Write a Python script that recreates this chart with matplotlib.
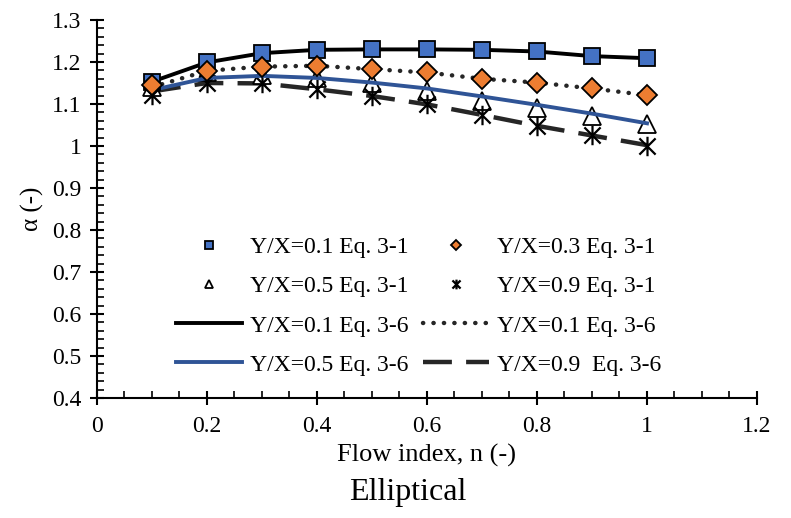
import matplotlib
matplotlib.use("Agg")
import matplotlib.pyplot as plt
from matplotlib.path import Path
from matplotlib.ticker import MultipleLocator

plt.rcParams['font.family'] = ['Liberation Serif', 'DejaVu Serif']

# Flow index values
n = [0.1, 0.2, 0.3, 0.4, 0.5, 0.6, 0.7, 0.8, 0.9, 1.0]

# Eq. 3-1 results (markers)
eq31_yx01 = [1.153, 1.199, 1.221, 1.229, 1.230, 1.230, 1.229, 1.225, 1.214, 1.209]
eq31_yx03 = [1.145, 1.179, 1.189, 1.191, 1.183, 1.175, 1.160, 1.151, 1.137, 1.121]
eq31_yx05 = [1.141, 1.175, 1.168, 1.161, 1.149, 1.130, 1.106, 1.090, 1.071, 1.052]
eq31_yx09 = [1.121, 1.149, 1.149, 1.135, 1.119, 1.099, 1.074, 1.048, 1.025, 1.001]

# Eq. 3-6 results (lines)
eq36_yx01 = [1.153, 1.199, 1.221, 1.229, 1.230, 1.230, 1.229, 1.225, 1.214, 1.209]
eq36_yx01b = [1.140, 1.179, 1.189, 1.191, 1.183, 1.175, 1.160, 1.151, 1.137, 1.121]
eq36_yx05 = [1.133, 1.162, 1.167, 1.162, 1.151, 1.137, 1.118, 1.098, 1.077, 1.054]
eq36_yx09 = [1.130, 1.150, 1.149, 1.135, 1.119, 1.099, 1.074, 1.048, 1.025, 1.002]

labels = [
    "Y/X=0.1 Eq. 3-1", "Y/X=0.3 Eq. 3-1", "Y/X=0.5 Eq. 3-1", "Y/X=0.9 Eq. 3-1",
    "Y/X=0.1 Eq. 3-6", "Y/X=0.1 Eq. 3-6", "Y/X=0.5 Eq. 3-6", "Y/X=0.9  Eq. 3-6",
]

# asterisk marker: an X with a vertical bar
star = Path([(-1, -1), (1, 1), (-1, 1), (1, -1), (0, -1.2), (0, 1.2)],
            [Path.MOVETO, Path.LINETO, Path.MOVETO, Path.LINETO, Path.MOVETO, Path.LINETO])

fig = plt.figure(figsize=(7.91, 5.18), dpi=100)
ax = fig.add_axes([0.1226, 0.2317, 0.8344, 0.7297])

l_solid, = ax.plot(n, eq36_yx01, color='black', lw=2.8, zorder=2)
l_dot, = ax.plot(n, eq36_yx01b, color='#262626', lw=3.2, linestyle=(0, (0.05, 2.3)),
                 dash_capstyle='round', zorder=2)
l_blue, = ax.plot(n, eq36_yx05, color='#2F5496', lw=2.8, zorder=4)
l_dash, = ax.plot(n, eq36_yx09, color='#262626', lw=3.2, linestyle=(0, (6.5, 3.2)), zorder=2)

m_sq, = ax.plot(n, eq31_yx01, linestyle='none', marker='s', ms=11, mfc='#4472C4',
                mec='black', mew=1.3, zorder=5)
m_di, = ax.plot(n, eq31_yx03, linestyle='none', marker='D', ms=10.5, mfc='#ED7D31',
                mec='black', mew=1.3, zorder=5)
m_tr, = ax.plot(n, eq31_yx05, linestyle='none', marker='^', ms=12.5, mfc='white',
                mec='black', mew=1.3, zorder=3)
m_st, = ax.plot(n, eq31_yx09, linestyle='none', marker=star, ms=14, mfc='none',
                mec='black', mew=1.6, zorder=3)

ax.set_xlim(0, 1.2)
ax.set_ylim(0.4, 1.3)
ax.xaxis.set_minor_locator(MultipleLocator(0.05))
ax.yaxis.set_minor_locator(MultipleLocator(0.02))
ax.set_xticks([0, 0.2, 0.4, 0.6, 0.8, 1.0, 1.2])
ax.set_xticklabels(['0', '0.2', '0.4', '0.6', '0.8', '1', '1.2'])
ax.set_yticks([0.4, 0.5, 0.6, 0.7, 0.8, 0.9, 1.0, 1.1, 1.2, 1.3])
ax.set_yticklabels(['0.4', '0.5', '0.6', '0.7', '0.8', '0.9', '1', '1.1', '1.2', '1.3'])

for s in ['top', 'right']:
    ax.spines[s].set_visible(False)
for s in ['left', 'bottom']:
    ax.spines[s].set_linewidth(1.5)

ax.tick_params(which='major', direction='inout', length=10, width=1.5, labelsize=17)
ax.tick_params(axis='x', which='major', pad=8)
ax.tick_params(axis='y', which='major', pad=6)
ax.tick_params(which='minor', direction='in', length=5, width=1.2)

ax.set_xlabel('Flow index, n (-)', fontsize=19, labelpad=5)
ax.set_ylabel('α (-)', fontsize=18, labelpad=6)
fig.text(0.516, 0.035, 'Elliptical', ha='center', fontsize=23)

handles = [m_sq, m_tr, l_solid, l_blue, m_di, m_st, l_dot, l_dash]
order = [labels[0], labels[2], labels[4], labels[6], labels[1], labels[3], labels[5], labels[7]]
leg = ax.legend(handles, order, ncol=2, frameon=False, fontsize=17,
                loc='center', bbox_to_anchor=(0.487, 0.243), markerscale=0.5,
                handlelength=2.8, handletextpad=0.35, columnspacing=0.6,
                labelspacing=0.75)

fig.savefig('out.png', dpi=100)
